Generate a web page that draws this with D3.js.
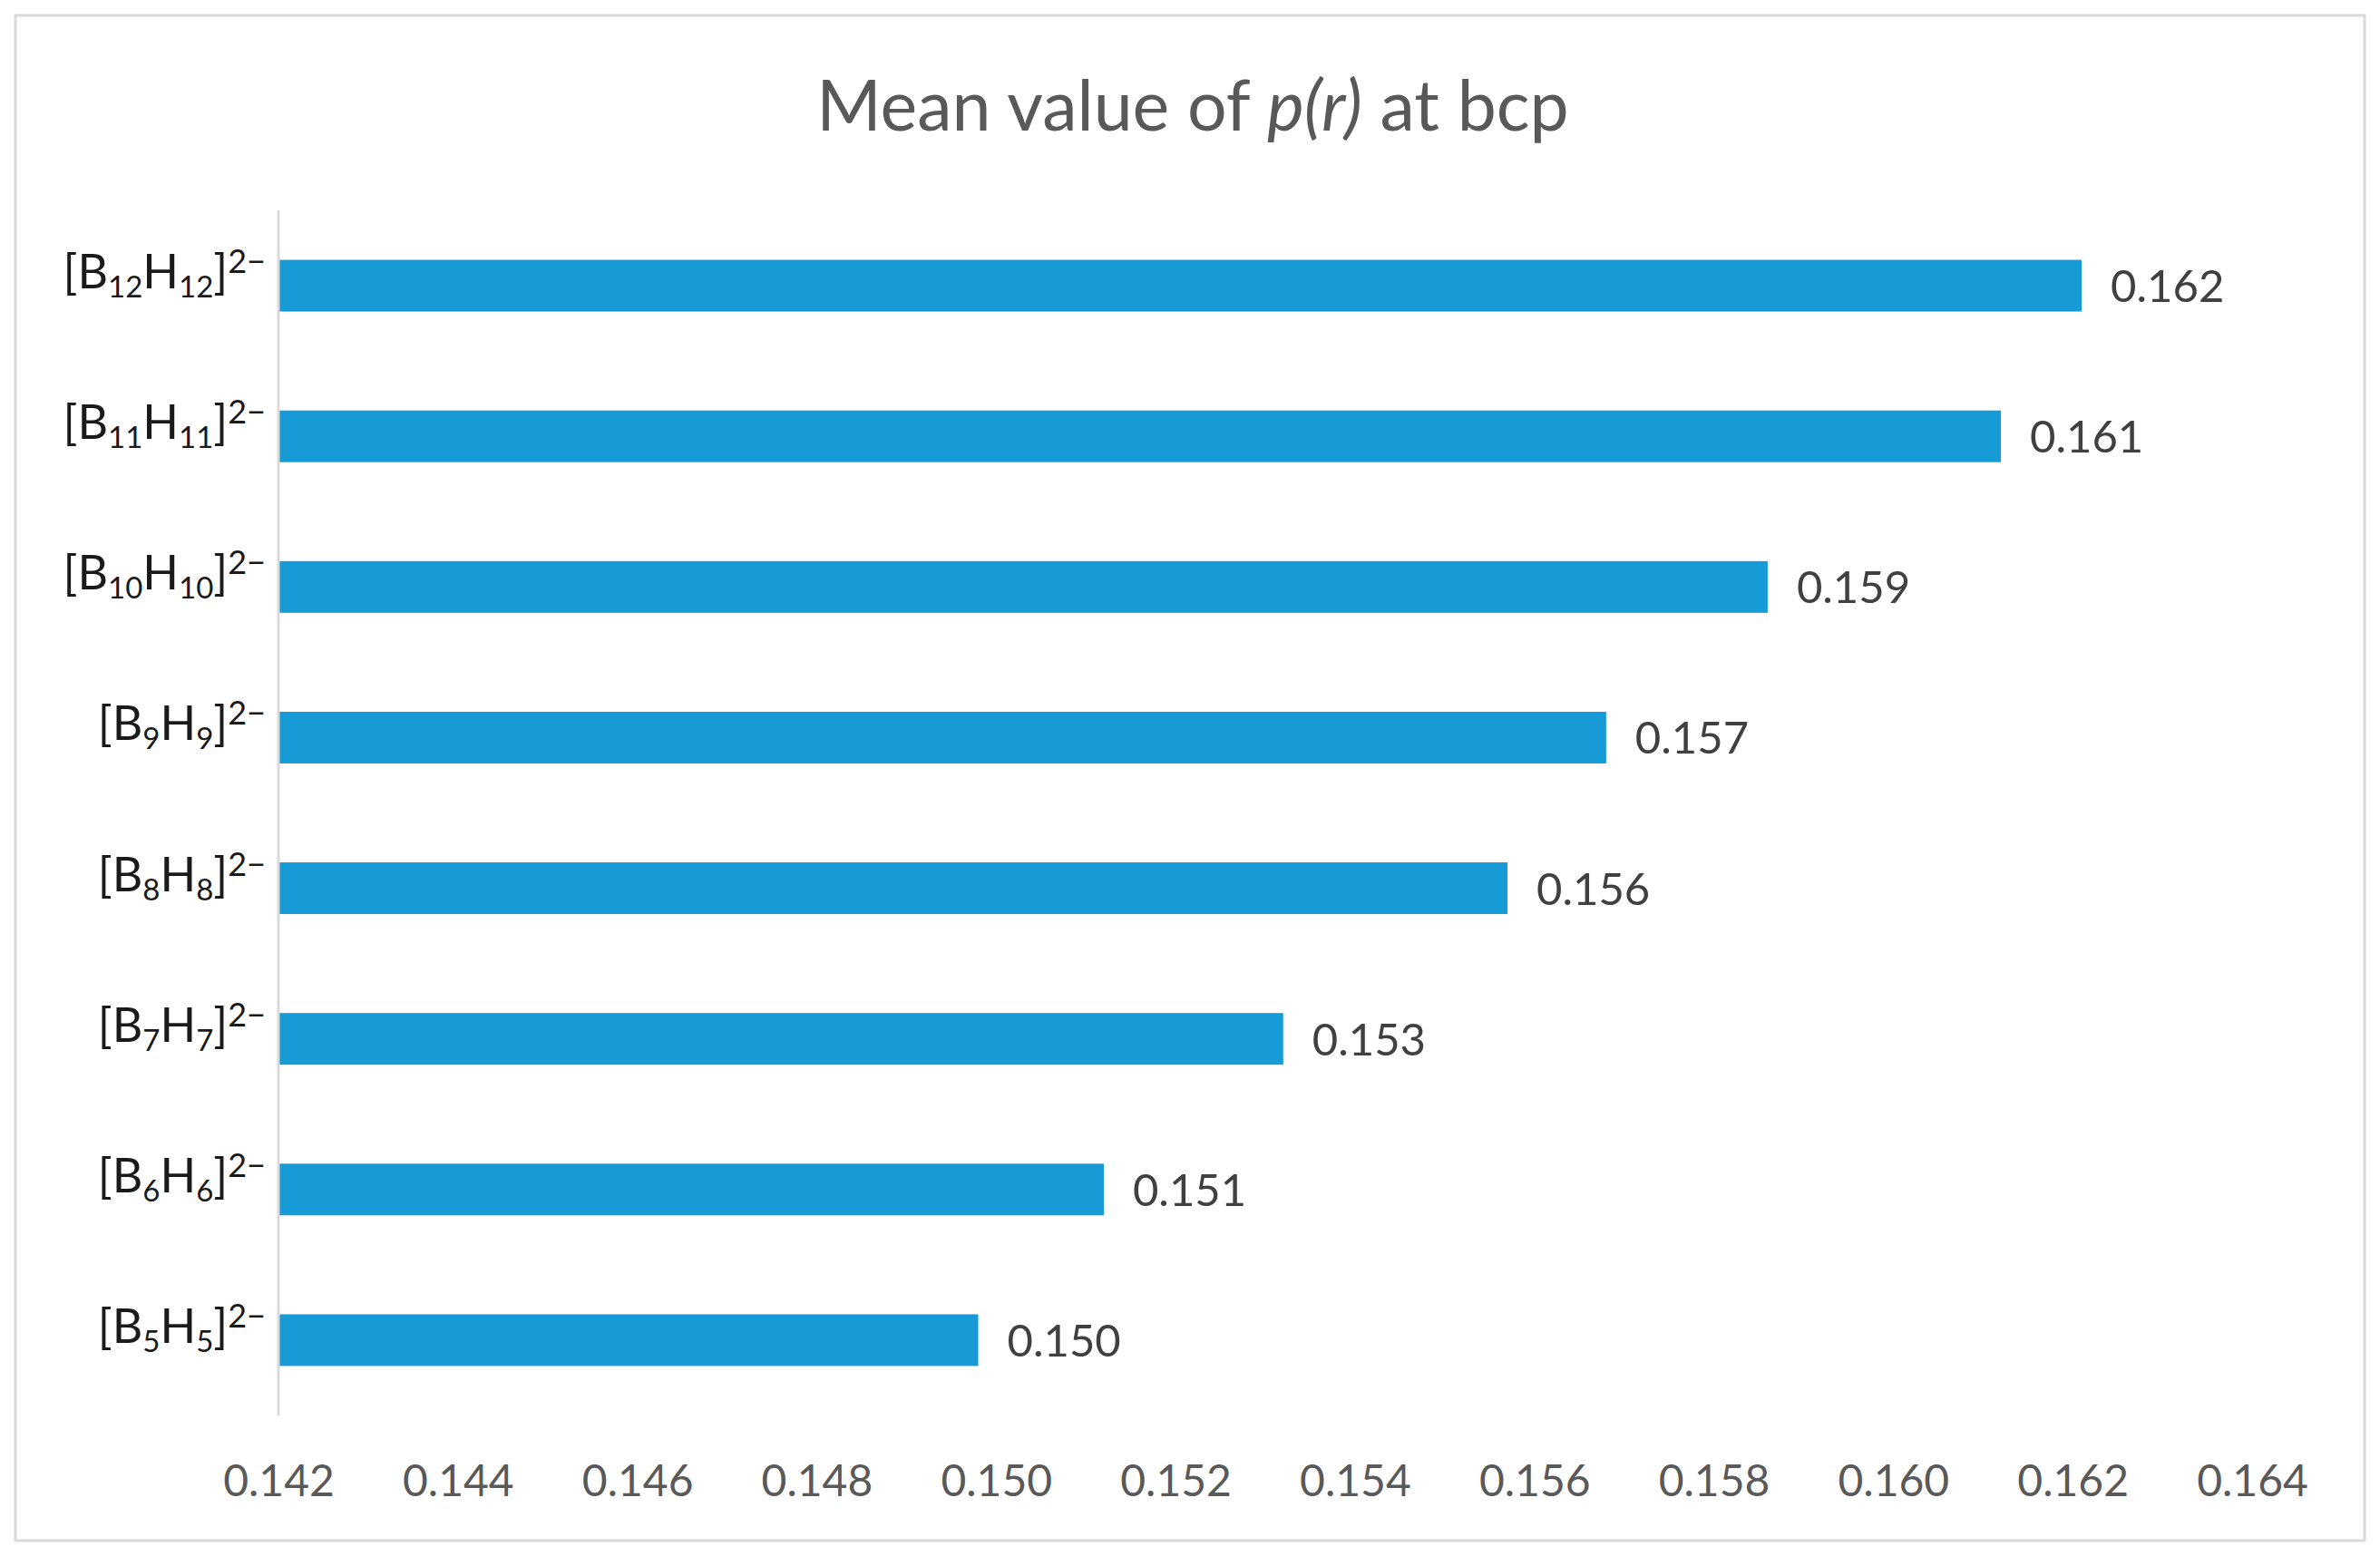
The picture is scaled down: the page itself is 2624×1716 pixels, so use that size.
<!DOCTYPE html>
<html>
<head>
<meta charset="utf-8">
<script src="https://cdn.jsdelivr.net/npm/d3@7/dist/d3.min.js"></script>
<style>
  html, body { margin: 0; padding: 0; background: #fff; }
  svg { display: block; }
</style>
</head>
<body>
<script>
// ---- data ----
const boronCounts = [12, 11, 10, 9, 8, 7, 6, 5];          // n in [BnHn]2−
const meanValues  = [0.1621, 0.1612, 0.1586, 0.1568, 0.1557, 0.1532, 0.1512, 0.1498];
const valueLabels = ["0.162", "0.161", "0.159", "0.157", "0.156", "0.153", "0.151", "0.150"];
const xTicks      = [0.142, 0.144, 0.146, 0.148, 0.150, 0.152, 0.154, 0.156, 0.158, 0.160, 0.162, 0.164];
const titleMain   = "Mean value of ";
const titleItalic = "p(r)";
const titleEnd    = " at bcp";

const W = 2624, H = 1716;
const FONT = "Lato, 'Open Sans', sans-serif";

const svg = d3.select("body").append("svg")
  .attr("width", W).attr("height", H);

// outer frame
svg.append("rect")
  .attr("x", 17).attr("y", 17)
  .attr("width", W - 34).attr("height", H - 34)
  .attr("fill", "#fff")
  .attr("stroke", "#d9d9d9").attr("stroke-width", 3);

// scales
const x = d3.scaleLinear().domain([0.142, 0.164]).range([307, 2483]);
const y = d3.scaleBand()
  .domain(boronCounts.map(String))
  .range([232, 1561])
  .paddingInner(0.657)
  .paddingOuter(0.3285);

// title
const title = svg.append("text")
  .attr("x", 1315).attr("y", 144)
  .attr("text-anchor", "middle")
  .attr("font-family", FONT)
  .attr("font-size", 77)
  .attr("fill", "#595959");
title.append("tspan").text(titleMain);
title.append("tspan").attr("font-style", "italic").text(titleItalic);
title.append("tspan").text(titleEnd);

// bars
svg.append("g").selectAll("rect")
  .data(boronCounts)
  .join("rect")
  .attr("x", x(0.142))
  .attr("y", (d) => y(String(d)))
  .attr("width", (d, i) => x(meanValues[i]) - x(0.142))
  .attr("height", y.bandwidth())
  .attr("fill", "#179bd7");

// value labels
svg.append("g").selectAll("text")
  .data(boronCounts)
  .join("text")
  .attr("x", (d, i) => x(meanValues[i]) + 32)
  .attr("y", (d) => y(String(d)) + y.bandwidth() / 2 + 18)
  .attr("font-family", FONT)
  .attr("font-size", 49)
  .attr("fill", "#404040")
  .text((d, i) => valueLabels[i]);

// vertical axis line (category axis)
svg.append("line")
  .attr("x1", 307).attr("x2", 307)
  .attr("y1", y.range()[0]).attr("y2", y.range()[1])
  .attr("stroke", "#d9d9d9").attr("stroke-width", 3);

// category labels [BnHn]2−
const cat = svg.append("g").selectAll("text")
  .data(boronCounts)
  .join("text")
  .attr("x", 293)
  .attr("y", (d) => y(String(d)) + y.bandwidth() / 2 + 3)
  .attr("text-anchor", "end")
  .attr("font-family", FONT)
  .attr("font-size", 52)
  .attr("fill", "#1a1a1a");
cat.each(function (d) {
  const t = d3.select(this);
  t.append("tspan").text("[B");
  t.append("tspan").attr("font-size", 33).attr("dy", 10).text(String(d));
  t.append("tspan").attr("dy", -10).text("H");
  t.append("tspan").attr("font-size", 33).attr("dy", 10).text(String(d));
  t.append("tspan").attr("dy", -10).text("]");
  t.append("tspan").attr("font-size", 36).attr("dy", -17).text("2\u2212");
});

// x axis tick labels
const xAxis = d3.axisBottom(x)
  .tickValues(xTicks)
  .tickSize(0)
  .tickPadding(0)
  .tickFormat(d3.format(".3f"));
const gx = svg.append("g")
  .attr("transform", "translate(0,1650)")
  .call(xAxis);
gx.select(".domain").remove();
gx.selectAll("text")
  .attr("font-family", FONT)
  .attr("font-size", 48)
  .attr("fill", "#595959")
  .attr("dy", 0)
  .attr("y", 0);
</script>
</body>
</html>
